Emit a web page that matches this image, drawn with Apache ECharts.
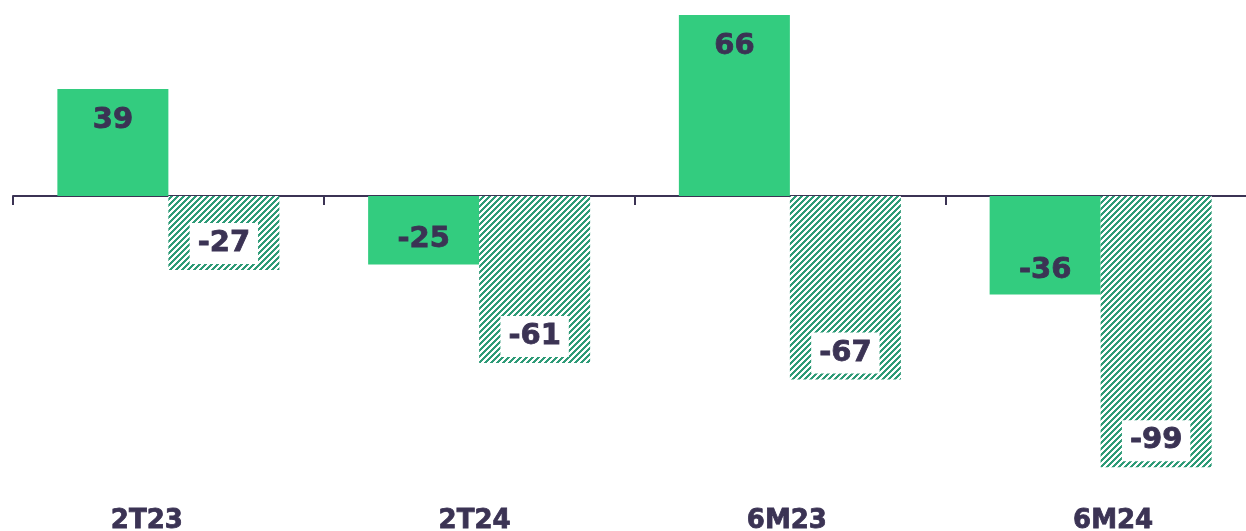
<!DOCTYPE html>
<html>
<head>
<meta charset="utf-8">
<script src="https://cdn.jsdelivr.net/npm/echarts@6/dist/echarts.min.js"></script>
<style>
html,body{margin:0;padding:0;background:#fff;overflow:hidden;}
#chart{width:1256px;height:531px;}
</style>
</head>
<body>
<div id="chart"></div>
<script>
const categories = ['2T23', '2T24', '6M23', '6M24'];
const solidValues = [39, -25, 66, -36];
const hatchedValues = [-27, -61, -67, -99];

const navy = '#3b3354';
const green = '#33cc7f';
const hatchGreen = '#2e9b77';

function makeHatch() {
  const c = document.createElement('canvas');
  c.width = 6; c.height = 6;
  const ctx = c.getContext('2d');
  ctx.fillStyle = '#ffffff';
  ctx.fillRect(0, 0, 6, 6);
  ctx.fillStyle = hatchGreen;
  for (let y = 0; y < 6; y++) {
    for (let x = 0; x < 6; x++) {
      if ((x + y) % 6 < 3) ctx.fillRect(x, y, 1, 1);
    }
  }
  return c;
}

const chart = echarts.init(document.getElementById('chart'));

const labelFont = {
  fontFamily: 'DejaVu Sans', fontWeight: 'bold', fontSize: 29, color: navy,
  textBorderColor: navy, textBorderWidth: 0.8
};
const axisFont = {
  fontFamily: 'DejaVu Sans', fontWeight: 'bold', fontSize: 26, color: navy,
  textBorderColor: navy, textBorderWidth: 0.8
};

const solidData = solidValues.map(v => ({
  value: v,
  label: v >= 0 ? { position: 'insideTop', distance: 17 } : { position: 'insideBottom', distance: 10 }
}));

chart.setOption({
  animation: false,
  grid: { left: 13, right: 0, top: 4, bottom: 61, outerBoundsMode: 'none', containLabel: false },
  xAxis: [
    {
      type: 'category',
      data: categories,
      position: 'bottom',
      axisLine: { onZero: true, lineStyle: { color: navy, width: 2 } },
      axisTick: { show: true, length: 9, lineStyle: { color: navy, width: 2 } },
      axisLabel: { show: false },
      splitLine: { show: false }
    },
    {
      type: 'category',
      data: categories,
      position: 'bottom',
      axisLine: { show: false, onZero: false },
      axisTick: { show: false },
      axisLabel: Object.assign({
        margin: 38,
        formatter: (v, i) => '{c' + i + '|' + v + '}',
        rich: {
          c0: Object.assign({ padding: [0, 43, 0, 0] }, axisFont),
          c1: Object.assign({ padding: [0, 9, 0, 0] }, axisFont),
          c2: Object.assign({ padding: [0, 6, 0, 0] }, axisFont),
          c3: Object.assign({ padding: [0, 0, 0, 25] }, axisFont)
        }
      }, axisFont)
    }
  ],
  yAxis: {
    type: 'value',
    min: -100,
    max: 70,
    show: false,
    splitLine: { show: false }
  },
  series: [
    {
      type: 'bar',
      data: solidData,
      barWidth: 111,
      barGap: '0%',
      itemStyle: { color: green },
      label: Object.assign({ show: true }, labelFont)
    },
    {
      type: 'bar',
      data: hatchedValues,
      barWidth: 111,
      barGap: '0%',
      itemStyle: { color: { image: makeHatch(), repeat: 'repeat' } },
      label: Object.assign({
        show: true,
        position: 'insideBottom',
        distance: 6,
        backgroundColor: '#ffffff',
        padding: [6, 8, 6, 8]
      }, labelFont)
    }
  ]
});
</script>
</body>
</html>
